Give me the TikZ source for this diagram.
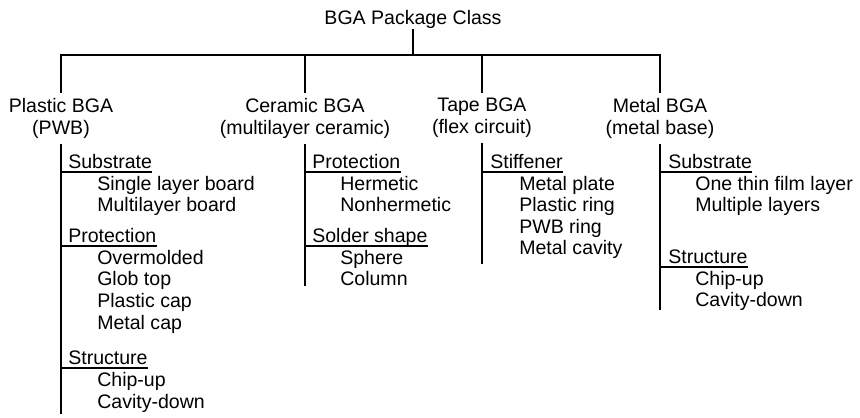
\documentclass[tikz,border=0pt]{standalone}
\usepackage{fontspec}
\setmainfont{Liberation Sans}
\usetikzlibrary{positioning, calc}

\begin{document}
\begin{tikzpicture}[
  x=0.025cm, y=-0.025cm,
  rule/.style={line width=1.1pt, line cap=rect},
  txt/.style={font=\fontsize{13.9}{15.3}\selectfont, inner sep=0pt},
  classbox/.style={txt, align=center, anchor=north, inner ysep=4.3pt},
  header/.style={txt, anchor=south west, text depth=0pt, inner ysep=2.1pt},
  item/.style={txt, anchor=base west}
]
  \useasboundingbox (0,0) rectangle (860,418);

  % top of the tree
  \node[txt, anchor=base] (root) at (413,25) {BGA Package Class};
  \coordinate (pl) at (61,55);
  \coordinate (ce) at (305,55);
  \coordinate (tp) at (482,55);
  \coordinate (mt) at (660,55);
  \draw[rule] (root.south) -- (root.south |- pl);
  \draw[rule] (pl) -- (mt);

  \node[classbox] (plname) at (61,92)  {Plastic BGA\\(PWB)};
  \node[classbox] (cename) at (305,92) {Ceramic BGA\\(multilayer ceramic)};
  \node[classbox] (tpname) at (482,92) {Tape BGA\\(flex circuit)};
  \node[classbox] (mtname) at (660,92) {Metal BGA\\(metal base)};

  \coordinate (plend) at (61,413);
  \coordinate (ceend) at (305,285);
  \coordinate (tpend) at (482,263);
  \coordinate (mtend) at (660,309);

  \foreach \c in {pl, ce, tp, mt} {
    \draw[rule] (\c) -- (\c name.north);
    \draw[rule] (\c name.south) -- (\c end);
  }

  % Plastic BGA
  \node[header] (plsub) at (68,172) {Substrate};
  \foreach \t [count=\i] in {Single layer board, Multilayer board}
    \node[item] (plsub\i) at (97,169+21.5*\i) {\t};
  \node[header] (plpro) at (68,246) {Protection};
  \foreach \t [count=\i] in {Overmolded, Glob top, Plastic cap, Metal cap}
    \node[item] (plpro\i) at (97,243+21.5*\i) {\t};
  \node[header] (plstr) at (68,368) {Structure};
  \foreach \t [count=\i] in {Chip-up, Cavity-down}
    \node[item] (plstr\i) at (97,365+21.5*\i) {\t};

  % Ceramic BGA
  \node[header] (cepro) at (312,172) {Protection};
  \foreach \t [count=\i] in {Hermetic, Nonhermetic}
    \node[item] (cepro\i) at (340,169+21.5*\i) {\t};
  \node[header, inner xsep=0pt] (cesol) at (312,246) {Solder shape\hspace{5pt}};
  \foreach \t [count=\i] in {Sphere, Column}
    \node[item] (cesol\i) at (340,243+21.5*\i) {\t};

  % Tape BGA
  \node[header] (tpstf) at (490,172) {Stiffener};
  \foreach \t [count=\i] in {Metal plate, Plastic ring, PWB ring, Metal cavity}
    \node[item] (tpstf\i) at (519,169+21.5*\i) {\t};

  % Metal BGA
  \node[header] (mtsub) at (668,172) {Substrate};
  \foreach \t [count=\i] in {One thin film layer, Multiple layers}
    \node[item] (mtsub\i) at (695,169+21.5*\i) {\t};
  \node[header] (mtstr) at (668,267) {Structure};
  \foreach \t [count=\i] in {Chip-up, Cavity-down}
    \node[item] (mtstr\i) at (695,264+21.5*\i) {\t};

  % underlines back to the stems
  \foreach \h/\c in {plsub/pl, plpro/pl, plstr/pl, cepro/ce, cesol/ce, tpstf/tp, mtsub/mt, mtstr/mt}
    \draw[line width=0.9pt] (\h.south east) -- (\h.south east -| \c);
\end{tikzpicture}
\end{document}
